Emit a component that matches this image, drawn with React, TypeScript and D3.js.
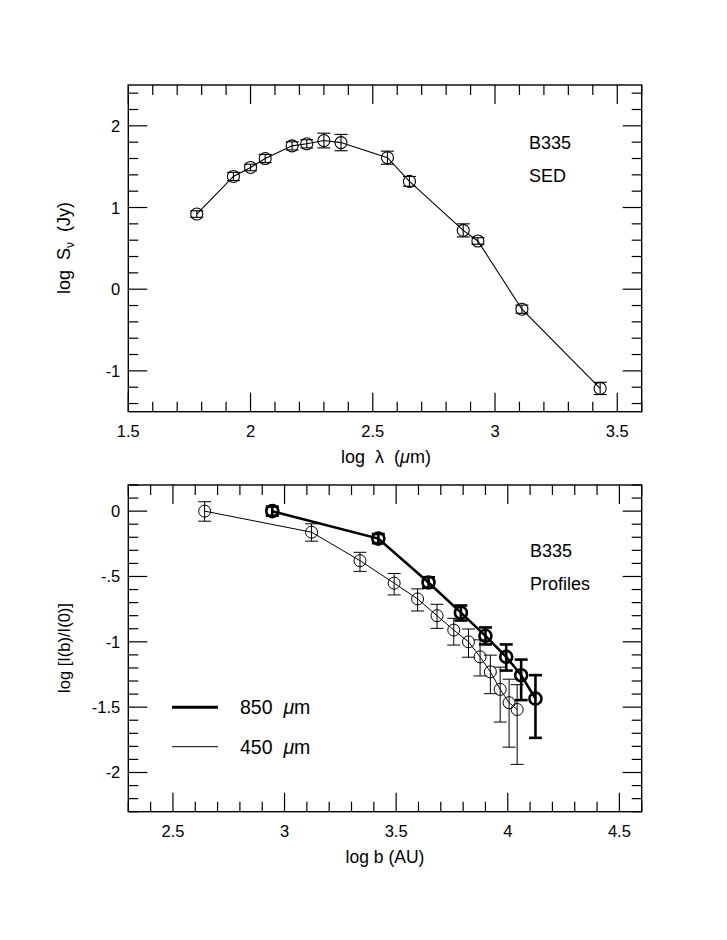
import { useEffect, useRef } from "react";
import { line, scaleLinear, select, range } from "d3";

// SED panel
const sedLogLambda = [1.78, 1.93, 2.0, 2.06, 2.17, 2.23, 2.3, 2.37, 2.56, 2.65, 2.87, 2.93, 3.11, 3.43];
const sedLogFlux = [0.92, 1.38, 1.49, 1.6, 1.755, 1.78, 1.82, 1.795, 1.61, 1.32, 0.72, 0.59, -0.245, -1.215];
const sedErr = [0.04, 0.05, 0.04, 0.05, 0.05, 0.05, 0.09, 0.1, 0.08, 0.06, 0.08, 0.04, 0.05, 0.075];

// profile panel, 850 um
const b850LogB = [2.945, 3.42, 3.645, 3.79, 3.9, 3.993, 4.06, 4.124];
const b850LogI = [0, -0.21, -0.546, -0.777, -0.954, -1.115, -1.256, -1.435];
const b850ErrUp = [0.035, 0.035, 0.04, 0.055, 0.064, 0.095, 0.12, 0.18];
const b850ErrDn = [0.035, 0.035, 0.04, 0.06, 0.066, 0.105, 0.19, 0.3];

// profile panel, 450 um
const b450LogB = [2.642, 3.121, 3.338, 3.491, 3.596, 3.683, 3.758, 3.824, 3.876, 3.922, 3.966, 4.006, 4.042];
const b450LogI = [0, -0.161, -0.379, -0.551, -0.672, -0.8, -0.91, -1.0, -1.115, -1.23, -1.364, -1.466, -1.518];
const b450ErrUp = [0.072, 0.064, 0.064, 0.074, 0.077, 0.087, 0.09, 0.098, 0.13, 0.128, 0.17, 0.18, 0.19];
const b450ErrDn = [0.077, 0.069, 0.082, 0.09, 0.092, 0.097, 0.115, 0.118, 0.146, 0.167, 0.25, 0.34, 0.42];

const sedXTicks = ["1.5", "2", "2.5", "3", "3.5"];
const sedYTicks = ["-1", "0", "1", "2"];
const profXTicks = ["2.5", "3", "3.5", "4", "4.5"];
const profYTicks = ["-2", "-1.5", "-1", "-.5", "0"];

const FONT = "'Liberation Sans', Arial, Helvetica, sans-serif";

type Pt = { x: number; y: number; up: number; dn: number };

function zip(xs: number[], ys: number[], up: number[], dn: number[]): Pt[] {
  return xs.map((x, i) => ({ x, y: ys[i], up: up[i], dn: dn[i] }));
}

function frame(g: any, x: any, y: any, xMinor: number, yMinor: number, xLabels: string[], yLabels: string[]) {
  const [x0, x1] = x.range();
  const [y0, y1] = y.range(); // y0 bottom, y1 top
  const [dx0, dx1] = x.domain();
  const [dy0, dy1] = y.domain();
  const isMajorX = (v: number) => xLabels.some((l) => Math.abs(parseFloat(l) - v) < 1e-6);
  const isMajorY = (v: number) => yLabels.some((l) => Math.abs(parseFloat(l) - v) < 1e-6);

  const xt = range(Math.ceil(dx0 / xMinor - 1e-6), Math.floor(dx1 / xMinor + 1e-6) + 1).map((k) => +(k * xMinor).toFixed(4));
  const yt = range(Math.ceil(dy0 / yMinor - 1e-6), Math.floor(dy1 / yMinor + 1e-6) + 1).map((k) => +(k * yMinor).toFixed(4));

  const ticks = g.append("g").attr("stroke", "#000").attr("stroke-width", 1.2);
  xt.forEach((v) => {
    const len = isMajorX(v) ? 19 : 10;
    const px = x(v);
    ticks.append("line").attr("x1", px).attr("x2", px).attr("y1", y0).attr("y2", y0 - len);
    ticks.append("line").attr("x1", px).attr("x2", px).attr("y1", y1).attr("y2", y1 + len);
  });
  yt.forEach((v) => {
    const len = isMajorY(v) ? 19 : 10;
    const py = y(v);
    ticks.append("line").attr("x1", x0).attr("x2", x0 + len).attr("y1", py).attr("y2", py);
    ticks.append("line").attr("x1", x1).attr("x2", x1 - len).attr("y1", py).attr("y2", py);
  });

  g.append("rect")
    .attr("x", x0)
    .attr("y", y1)
    .attr("width", x1 - x0)
    .attr("height", y0 - y1)
    .attr("fill", "none")
    .attr("stroke", "#000")
    .attr("stroke-width", 1.4);

  g.selectAll(null)
    .data(xLabels)
    .join("text")
    .attr("x", (d: string) => x(parseFloat(d)))
    .attr("y", y0 + 25)
    .attr("text-anchor", "middle")
    .attr("font-size", 16.5)
    .attr("font-family", FONT)
    .text((d: string) => d);

  g.selectAll(null)
    .data(yLabels)
    .join("text")
    .attr("x", x0 - 8)
    .attr("y", (d: string) => y(parseFloat(d)) + 6)
    .attr("text-anchor", "end")
    .attr("font-size", 16.5)
    .attr("font-family", FONT)
    .text((d: string) => d);
}

function series(g: any, x: any, y: any, pts: Pt[], width: number) {
  const path = line<Pt>()
    .x((d) => x(d.x))
    .y((d) => y(d.y));
  g.append("path")
    .attr("d", path(pts))
    .attr("fill", "none")
    .attr("stroke", "#000")
    .attr("stroke-width", width);

  const cap = 6.5;
  const eb = g.append("g").attr("stroke", "#000").attr("stroke-width", width);
  pts.forEach((d) => {
    const px = x(d.x);
    const top = y(d.y + d.up);
    const bot = y(d.y - d.dn);
    eb.append("line").attr("x1", px).attr("x2", px).attr("y1", top).attr("y2", bot);
    eb.append("line").attr("x1", px - cap).attr("x2", px + cap).attr("y1", top).attr("y2", top);
    eb.append("line").attr("x1", px - cap).attr("x2", px + cap).attr("y1", bot).attr("y2", bot);
  });

  g.selectAll(null)
    .data(pts)
    .join("circle")
    .attr("cx", (d: Pt) => x(d.x))
    .attr("cy", (d: Pt) => y(d.y))
    .attr("r", 6)
    .attr("fill", "none")
    .attr("stroke", "#000")
    .attr("stroke-width", width);
}

export default function App() {
  const svgRef = useRef<SVGSVGElement | null>(null);

  useEffect(() => {
    if (!svgRef.current) return;
    const svg = select(svgRef.current);
    svg.selectAll("*").remove();

    svg.append("rect").attr("width", 727).attr("height", 940).attr("fill", "#fff");

    // ---- top: SED ----
    const xs = scaleLinear().domain([1.5, 3.6]).range([128.3, 641.7]);
    const ys = scaleLinear().domain([-1.5, 2.5]).range([411.7, 85]);
    const top = svg.append("g");
    frame(top, xs, ys, 0.1, 0.2, sedXTicks, sedYTicks);
    series(top, xs, ys, zip(sedLogLambda, sedLogFlux, sedErr, sedErr), 1.1);

    top.append("text").attr("x", 529).attr("y", 149).attr("font-size", 18).attr("font-family", FONT).text("B335");
    top.append("text").attr("x", 529).attr("y", 182).attr("font-size", 18).attr("font-family", FONT).text("SED");

    const xt = top
      .append("text")
      .attr("x", 386)
      .attr("y", 463)
      .attr("text-anchor", "middle")
      .attr("font-size", 18)
      .attr("font-family", FONT)
      .style("white-space", "pre");
    xt.append("tspan").text("log  λ  (");
    xt.append("tspan").attr("font-style", "italic").text("μ");
    xt.append("tspan").text("m)");

    const yt = top
      .append("text")
      .attr("transform", "translate(70,248) rotate(-90)")
      .attr("text-anchor", "middle")
      .attr("font-size", 18)
      .attr("font-family", FONT)
      .style("white-space", "pre");
    yt.append("tspan").text("log  S");
    yt.append("tspan").attr("font-size", 12).attr("dy", 4).text("ν");
    yt.append("tspan").attr("dy", -4).text("  (Jy)");

    // ---- bottom: profiles ----
    const xb = scaleLinear().domain([2.3, 4.6]).range([128.3, 641.7]);
    const yb = scaleLinear().domain([-2.3, 0.2]).range([811.7, 485]);
    const bot = svg.append("g");
    frame(bot, xb, yb, 0.1, 0.1, profXTicks, profYTicks);
    series(bot, xb, yb, zip(b450LogB, b450LogI, b450ErrUp, b450ErrDn), 1);
    series(bot, xb, yb, zip(b850LogB, b850LogI, b850ErrUp, b850ErrDn), 2.6);

    bot.append("text").attr("x", 530).attr("y", 557).attr("font-size", 18).attr("font-family", FONT).text("B335");
    bot.append("text").attr("x", 530).attr("y", 590).attr("font-size", 18).attr("font-family", FONT).text("Profiles");

    bot
      .append("text")
      .attr("x", 385)
      .attr("y", 863)
      .attr("text-anchor", "middle")
      .attr("font-size", 17.5)
      .attr("font-family", FONT)
      .text("log b (AU)");
    bot
      .append("text")
      .attr("transform", "translate(70,648) rotate(-90)")
      .attr("text-anchor", "middle")
      .attr("font-size", 16.5)
      .attr("font-family", FONT)
      .text("log [I(b)/I(0)]");

    // legend
    const legend = [
      { label: "850 ", w: 3, y: 707.3 },
      { label: "450 ", w: 1, y: 746.7 },
    ];
    legend.forEach((l) => {
      bot.append("line").attr("x1", 172).attr("x2", 218).attr("y1", l.y).attr("y2", l.y).attr("stroke", "#000").attr("stroke-width", l.w);
      const t = bot
        .append("text")
        .attr("x", 240)
        .attr("y", l.y + 7)
        .attr("font-size", 19.5)
        .attr("font-family", FONT)
        .style("white-space", "pre");
      t.append("tspan").text(l.label + " ");
      t.append("tspan").attr("font-style", "italic").text("μ");
      t.append("tspan").text("m");
    });
  }, []);

  return (
    <div style={{ position: "absolute", left: 0, top: 0, width: 727, height: 940 }}>
      <svg ref={svgRef} width={727} height={940} viewBox="0 0 727 940" aria-label="B335 SED and profiles" />
    </div>
  );
}
